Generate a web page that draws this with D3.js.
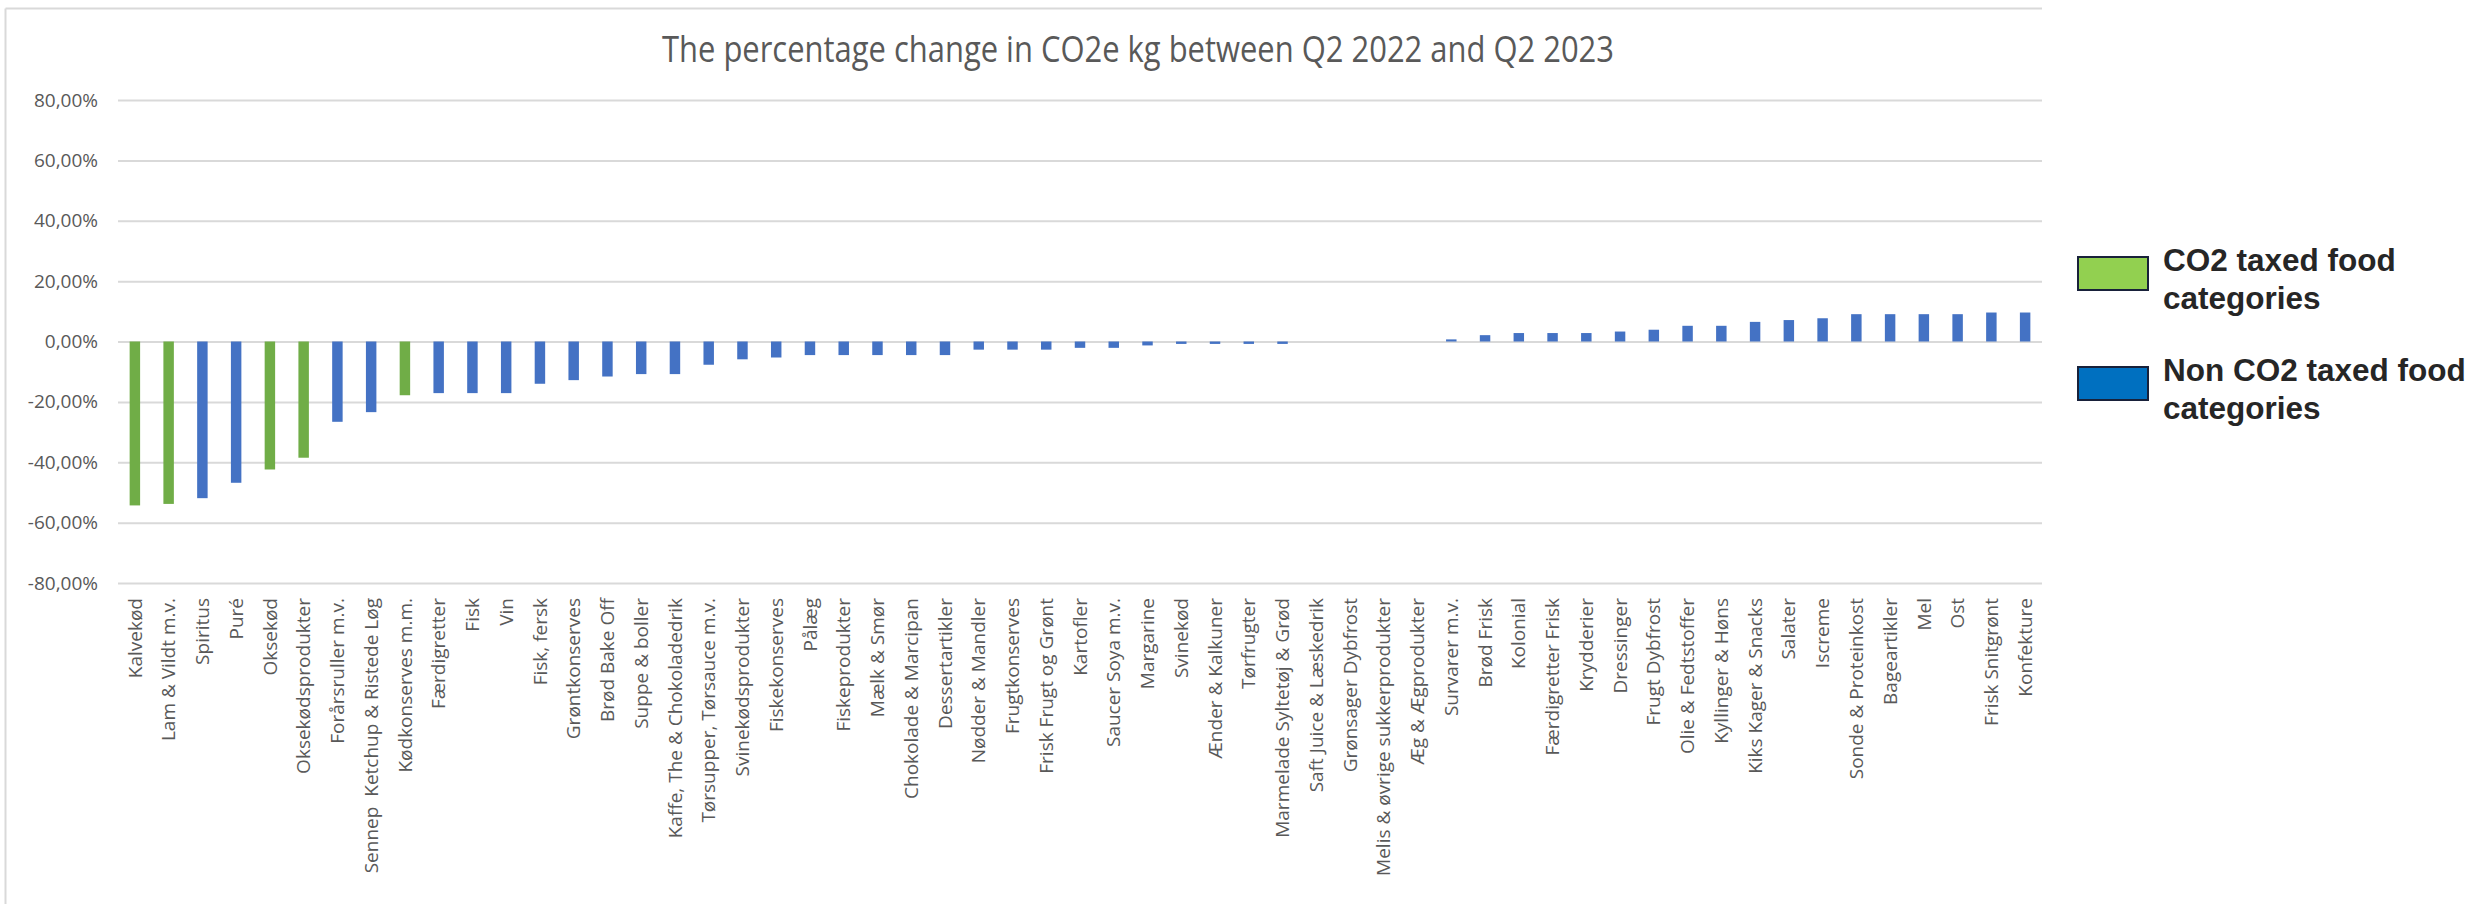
<!DOCTYPE html>
<html>
<head>
<meta charset="utf-8">
<script src="https://cdn.jsdelivr.net/npm/d3@7"></script>
<style>
  html, body { margin: 0; padding: 0; background: #fff; }
  svg { display: block; }
</style>
</head>
<body>
<svg id="chart"></svg>
<script>
// category labels in chart order
const categories = [
  'Kalvekød', 'Lam & Vildt m.v.', 'Spiritus', 'Puré', 'Oksekød', 'Oksekødsprodukter',
  'Forårsruller m.v.', 'Sennep  Ketchup & Ristede Løg', 'Kødkonserves m.m.', 'Færdigretter',
  'Fisk', 'Vin', 'Fisk, fersk', 'Grøntkonserves', 'Brød Bake Off', 'Suppe & boller',
  'Kaffe, The & Chokoladedrik', 'Tørsupper, Tørsauce m.v.', 'Svinekødsprodukter', 'Fiskekonserves',
  'Pålæg', 'Fiskeprodukter', 'Mælk & Smør', 'Chokolade & Marcipan', 'Dessertartikler',
  'Nødder & Mandler', 'Frugtkonserves', 'Frisk Frugt og Grønt', 'Kartofler', 'Saucer Soya m.v.',
  'Margarine', 'Svinekød', 'Ænder & Kalkuner', 'Tørfrugter', 'Marmelade Syltetøj & Grød',
  'Saft Juice & Læskedrik', 'Grønsager Dybfrost', 'Melis & øvrige sukkerprodukter', 'Æg & Ægprodukter',
  'Survarer m.v.', 'Brød Frisk', 'Kolonial', 'Færdigretter Frisk', 'Krydderier', 'Dressinger',
  'Frugt Dybfrost', 'Olie & Fedtstoffer', 'Kyllinger & Høns', 'Kiks Kager & Snacks', 'Salater',
  'Iscreme', 'Sonde & Proteinkost', 'Bageartikler', 'Mel', 'Ost', 'Frisk Snitgrønt', 'Konfekture'
];

// percentage change
const changes = [
  -54.3, -53.8, -51.9, -46.8, -42.4, -38.5,
  -26.6, -23.4, -17.8, -17.1,
  -17.1, -17.1, -14.0, -12.8, -11.6, -10.8,
  -10.8, -7.7, -5.9, -5.3,
  -4.5, -4.5, -4.5, -4.5, -4.5,
  -2.7, -2.7, -2.7, -2.1, -2.1,
  -1.3, -0.8, -0.8, -0.8, -0.8,
  0, 0, 0, 0,
  0.7, 2.1, 2.8, 2.8, 2.8, 3.3,
  3.9, 5.2, 5.2, 6.5, 7.1,
  7.7, 9.05, 9.05, 9.05, 9.05, 9.6, 9.6
];

// categories that carry the CO2 tax (green bars)
const taxed = ['Kalvekød', 'Lam & Vildt m.v.', 'Oksekød', 'Oksekødsprodukter', 'Kødkonserves m.m.'];

const yTicks = [-80, -60, -40, -20, 0, 20, 40, 60, 80];

const legendLabels = [
  ['CO2 taxed food', 'categories'],
  ['Non CO2 taxed food', 'categories']
];

const title = 'The percentage change in CO2e kg between Q2 2022 and Q2 2023';

const data = categories.map((c, i) => ({ cat: c, val: changes[i], taxed: taxed.includes(c) }));

const width = 2486, height = 904;
const plot = { left: 118, right: 2042, top: 100, bottom: 583 };

const svg = d3.select('#chart').attr('width', width).attr('height', height);

// chart frame (only top and left edges show in the picture)
svg.append('line').attr('x1', 5.5).attr('x2', plot.right).attr('y1', 8.5).attr('y2', 8.5)
  .attr('stroke', '#d9d9d9').attr('stroke-width', 2);
svg.append('line').attr('x1', 5.5).attr('x2', 5.5).attr('y1', 8.5).attr('y2', height)
  .attr('stroke', '#d9d9d9').attr('stroke-width', 2);

const x = d3.scaleBand()
  .domain(categories)
  .range([plot.left, plot.right])
  .paddingInner(0.69)
  .paddingOuter(0.345);

const y = d3.scaleLinear()
  .domain([-80, 80])
  .range([plot.bottom, plot.top]);

const locale = d3.formatLocale({ decimal: ',', thousands: '.', grouping: [3], currency: ['', ''], minus: '-' });
const fmt = locale.format('.2f');

// gridlines + y labels
const yAxis = d3.axisLeft(y)
  .tickValues(yTicks)
  .tickSize(-(plot.right - plot.left))
  .tickPadding(20)
  .tickFormat(d => fmt(d) + '%');

const gy = svg.append('g')
  .attr('transform', `translate(${plot.left},0)`)
  .call(yAxis);
gy.select('.domain').remove();
gy.selectAll('.tick line').attr('stroke', '#d9d9d9').attr('stroke-width', 2);
gy.selectAll('.tick text')
  .attr('fill', '#595959')
  .style('font-family', '"Open Sans", "Noto Sans", sans-serif')
  .style('font-size', '19px');

// bars
svg.append('g').selectAll('rect')
  .data(data)
  .join('rect')
  .attr('x', d => x(d.cat))
  .attr('width', x.bandwidth())
  .attr('y', d => Math.min(y(d.val), y(0)))
  .attr('height', d => Math.abs(y(d.val) - y(0)))
  .attr('fill', d => d.taxed ? '#70AD47' : '#4472C4');

// category labels
const gx = svg.append('g')
  .attr('transform', `translate(0,${plot.bottom})`)
  .call(d3.axisBottom(x).tickSize(0).tickPadding(0));
gx.select('.domain').remove();
gx.selectAll('.tick text')
  .attr('transform', 'translate(0,15) rotate(-90)')
  .attr('text-anchor', 'end')
  .attr('x', 0)
  .attr('y', 0)
  .attr('dy', '0.35em')
  .attr('fill', '#595959')
  .style('white-space', 'pre')
  .style('font-family', '"Open Sans", "Noto Sans", sans-serif')
  .style('font-size', '19px');

// title
svg.append('text')
  .attr('x', 1138)
  .attr('y', 62)
  .attr('text-anchor', 'middle')
  .attr('textLength', 952)
  .attr('lengthAdjust', 'spacingAndGlyphs')
  .attr('fill', '#595959')
  .style('font-family', '"Liberation Sans Narrow", "Open Sans", sans-serif')
  .style('font-size', '36px')
  .text(title);

// legend
const legendColors = ['#92D050', '#0070C0'];
const lg = svg.append('g');
legendLabels.forEach((lines, i) => {
  const top = 257 + i * 110;
  lg.append('rect')
    .attr('x', 2078).attr('y', top)
    .attr('width', 70).attr('height', 33)
    .attr('fill', legendColors[i])
    .attr('stroke', '#18213a').attr('stroke-width', 2);
  const t = lg.append('text')
    .attr('x', 2163).attr('y', top + 14)
    .attr('fill', '#262626')
    .style('font-family', '"Liberation Sans", Arial, sans-serif')
    .style('font-weight', 'bold')
    .style('font-size', '31.5px');
  lines.forEach((ln, j) => {
    t.append('tspan').attr('x', 2163).attr('dy', j === 0 ? 0 : 38).text(ln);
  });
});
</script>
</body>
</html>
